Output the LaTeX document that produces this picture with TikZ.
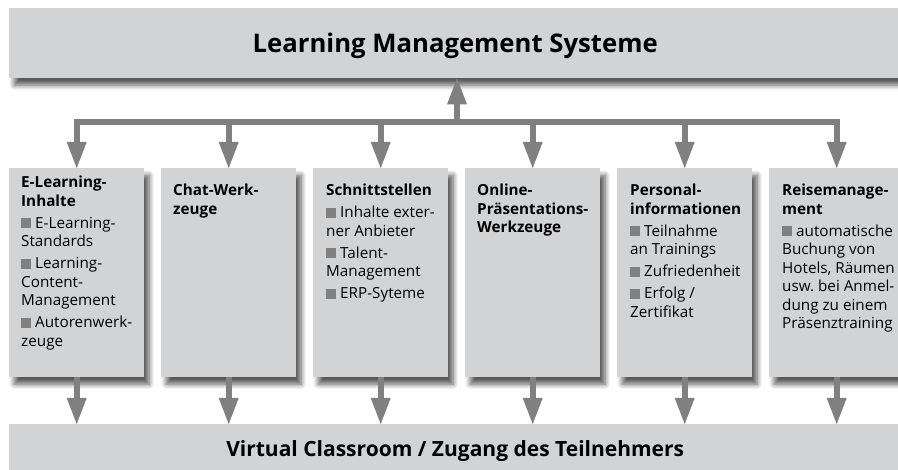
\documentclass[tikz,border=0pt]{standalone}
\usepackage{fontspec}
\setmainfont{Open Sans}
\usetikzlibrary{arrows.meta,shadows.blur}

\definecolor{panelgray}{RGB}{210,211,213}
\definecolor{arrowgray}{RGB}{128,128,128}
\definecolor{bulletgray}{RGB}{128,128,128}

\newcommand{\bul}{{\color{bulletgray}\rule{10pt}{10pt}}\hspace{4pt}}

\tikzset{
  panel/.style={fill=panelgray, inner sep=0pt, anchor=north west,
    blur shadow={shadow xshift=5pt, shadow yshift=-7pt, shadow blur radius=5pt,
      shadow blur steps=8, shadow opacity=65}},
  banner/.style={panel, minimum width=892pt, text depth=0pt},
  card/.style={panel, minimum width=135pt, minimum height=209pt},
  cardtext/.style={anchor=north west, inner sep=0pt, align=left,
    font=\fontsize{15.25}{18.5}\selectfont},
  arr/.style={draw=arrowgray, line width=6pt,
    -{Triangle[width=20pt,length=26pt,line width=0pt]}},
  bar/.style={draw=arrowgray, line width=6pt, line cap=rect}
}

\begin{document}
\begin{tikzpicture}[x=1pt, y=-1pt]
  \useasboundingbox (0,0) rectangle (898,470);

  % top and bottom banners
  \node[banner, minimum height=70pt, font=\fontsize{25.7}{30}\selectfont\bfseries]
    (lms) at (9,8) {Learning Management Systeme};
  \node[banner, minimum height=48pt, font=\fontsize{21}{24}\selectfont\bfseries]
    (vc) at (9,424) {Virtual Classroom / Zugang des Teilnehmers};

  % the six cards
  \foreach \i/\x in {1/9, 2/161, 3/313, 4/465, 5/617, 6/769}
    \node[card] (b\i) at (\x,168) {};

  % card texts
  \node[cardtext] (t1) at ([shift={(12pt,-8pt)}]b1.north west)
    {\textbf{E-Learning-}\\ \textbf{Inhalte}\\[3.5pt]
     \bul E-Learning-\\ Standards\\[3.5pt]
     \bul Learning-\\ Content-\\ Management\\[3.5pt]
     \bul Autorenwerk-\\ zeuge};
  \node[cardtext] (t2) at ([shift={(12pt,-16pt)}]b2.north west)
    {\textbf{Chat-Werk-}\\ \textbf{zeuge}};
  \node[cardtext] (t3) at ([shift={(13pt,-16pt)}]b3.north west)
    {\textbf{Schnittstellen}\\[3.5pt]
     \bul Inhalte exter-\\ ner Anbieter\\[3.5pt]
     \bul Talent-\\ Management\\[3.5pt]
     \bul ERP-Syteme};
  \node[cardtext] (t4) at ([shift={(12pt,-16pt)}]b4.north west)
    {\textbf{Online-}\\ \textbf{Präsentations-}\\ \textbf{Werkzeuge}};
  \node[cardtext] (t5) at ([shift={(13pt,-16pt)}]b5.north west)
    {\textbf{Personal-}\\ \textbf{informationen}\\[3.5pt]
     \bul Teilnahme\\ an Trainings\\[3.5pt]
     \bul Zufriedenheit\\[3.5pt]
     \bul Erfolg /\\ Zertifikat};
  \node[cardtext] (t6) at ([shift={(13pt,-16pt)}]b6.north west)
    {\textbf{Reisemanage-}\\ \textbf{ment}\\[3.5pt]
     \bul automatische\\ Buchung von\\ Hotels, Räumen\\ usw.\ bei Anmel-\\
     dung zu einem\\ Präsenztraining};

  % connectors
  \coordinate (hub) at (457,122);
  \draw[bar] (b1.north |- hub) -- (b6.north |- hub);
  \draw[arr] (hub) -- (hub |- lms.south);
  \foreach \i in {1,...,6} {
    \draw[arr] (b\i.north |- hub) -- (b\i.north);
    \draw[arr] (b\i.south) -- (b\i.south |- vc.north);
  }
\end{tikzpicture}
\end{document}
